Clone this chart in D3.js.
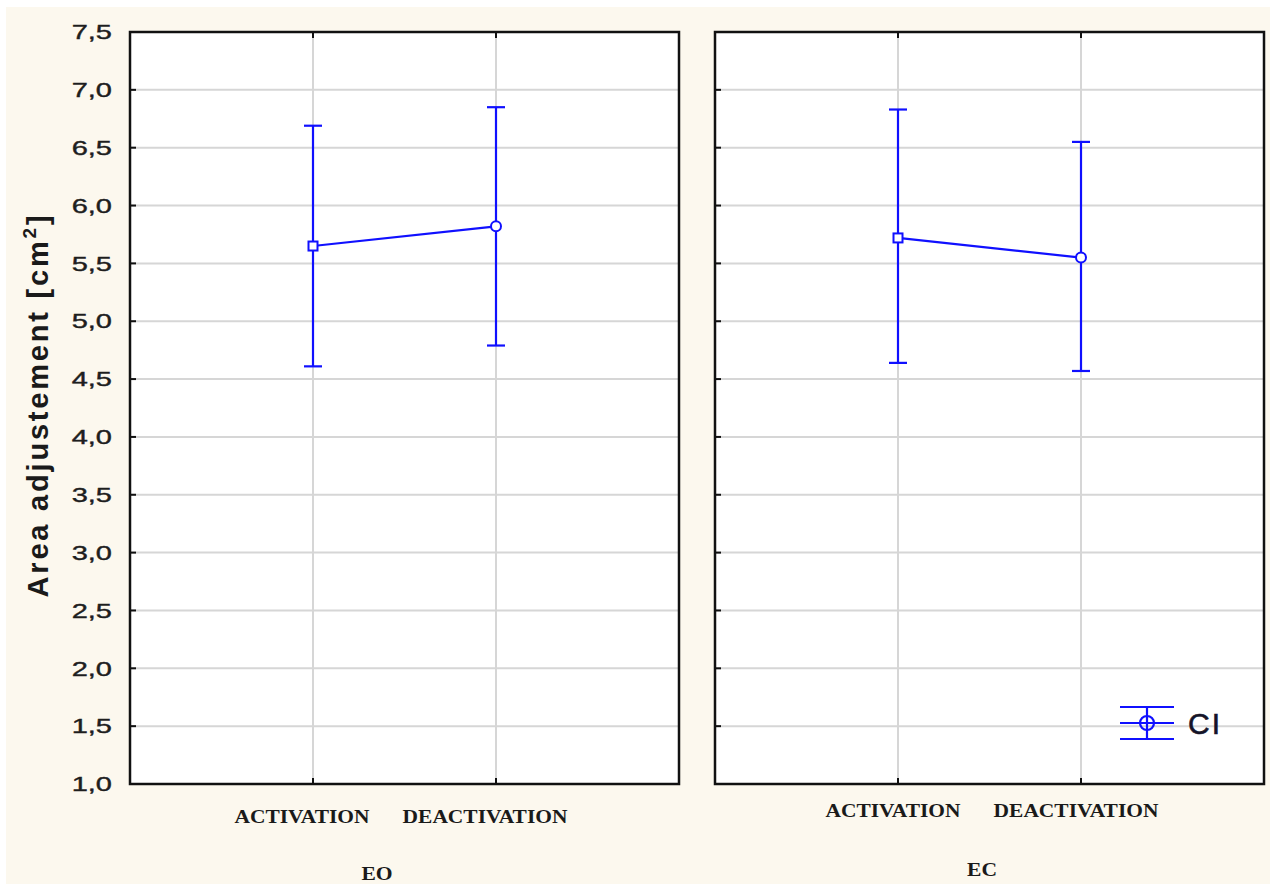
<!DOCTYPE html>
<html>
<head>
<meta charset="utf-8">
<script src="https://cdn.jsdelivr.net/npm/d3@7"></script>
<style>
  html, body { margin: 0; padding: 0; background: #ffffff; }
  svg { display: block; }
</style>
</head>
<body>
<svg id="chart" width="1270" height="884"></svg>
<script>
// ---------- data ----------
const categories = ["ACTIVATION", "DEACTIVATION"];
const panelNames = ["EO", "EC"];
const eoMean = [5.65, 5.82];
const eoLow  = [4.61, 4.79];
const eoHigh = [6.69, 6.85];
const ecMean = [5.72, 5.55];
const ecLow  = [4.64, 4.57];
const ecHigh = [6.83, 6.55];
const yTicks = [1.0, 1.5, 2.0, 2.5, 3.0, 3.5, 4.0, 4.5, 5.0, 5.5, 6.0, 6.5, 7.0, 7.5];
const yTitle = "Area adjustement [cm";
const legendLabel = "CI";

const panels = [
  { name: panelNames[0], mean: eoMean, low: eoLow, high: eoHigh },
  { name: panelNames[1], mean: ecMean, low: ecLow, high: ecHigh }
];

// ---------- layout ----------
const svg = d3.select("#chart");
const blue = "#1010ff";
const grid = "#d6d6d6";
const panelW = 549;
const panelLeft = [130, 715];
const yTop = 32, yBottom = 784;
const labelY = [823, 817];
const labelDx = [-11, -5];
const nameY = [880, 876];
const nameX = [377, 982];

svg.append("rect").attr("x", 6).attr("y", 7).attr("width", 1264).attr("height", 877)
  .attr("fill", "#fcf8ee");

const y = d3.scaleLinear().domain([1.0, 7.5]).range([yBottom, yTop]);
const fmt = v => d3.format(".1f")(v).replace(".", ",");

// y tick labels
const yl = svg.append("g");
yl.selectAll("text").data(yTicks).join("text")
  .attr("transform", d => `translate(112,${y(d)}) scale(1.45,1)`)
  .attr("text-anchor", "end")
  .attr("dominant-baseline", "central")
  .attr("font-family", "Liberation Sans, Arial, sans-serif")
  .attr("font-size", 20)
  .attr("fill", "#1e1e1e")
  .attr("stroke", "#1e1e1e").attr("stroke-width", 0.4)
  .text(fmt);

// y title
const yt = svg.append("text")
  .attr("transform", `translate(48,${(yTop + yBottom) / 2 - 3}) rotate(-90)`)
  .attr("text-anchor", "middle")
  .attr("font-family", "Liberation Sans, Arial, sans-serif")
  .attr("font-weight", "bold")
  .attr("font-size", 29)
  .attr("letter-spacing", 2.8)
  .attr("fill", "#1a1a1a");
yt.append("tspan").text(yTitle);
yt.append("tspan").attr("font-size", 19).attr("dy", -12).text("2");
yt.append("tspan").attr("dy", 12).text("]");

panels.forEach((p, i) => {
  const x0 = panelLeft[i];
  const x = d3.scalePoint().domain(categories).range([x0, x0 + panelW]).padding(1);
  const g = svg.append("g");

  g.append("rect").attr("x", x0).attr("y", yTop).attr("width", panelW).attr("height", yBottom - yTop)
    .attr("fill", "#ffffff");

  // grid
  g.selectAll("line.hg").data(yTicks.filter(t => t > 1.0 && t < 7.5)).join("line")
    .attr("class", "hg")
    .attr("x1", x0).attr("x2", x0 + panelW)
    .attr("y1", d => y(d)).attr("y2", d => y(d))
    .attr("stroke", grid).attr("stroke-width", 2);
  g.selectAll("line.vg").data(categories).join("line")
    .attr("class", "vg")
    .attr("x1", d => x(d)).attr("x2", d => x(d))
    .attr("y1", yTop).attr("y2", yBottom)
    .attr("stroke", grid).attr("stroke-width", 2);

  // ticks inside
  g.selectAll("line.yt").data(yTicks).join("line")
    .attr("class", "yt")
    .attr("x1", x0).attr("x2", x0 + 6)
    .attr("y1", d => y(d)).attr("y2", d => y(d))
    .attr("stroke", "#111").attr("stroke-width", 2);
  g.selectAll("line.bt").data(categories).join("line")
    .attr("class", "bt")
    .attr("x1", d => x(d)).attr("x2", d => x(d))
    .attr("y1", yBottom).attr("y2", yBottom - 6)
    .attr("stroke", "#111").attr("stroke-width", 2);
  g.selectAll("line.tt").data(categories).join("line")
    .attr("class", "tt")
    .attr("x1", d => x(d)).attr("x2", d => x(d))
    .attr("y1", yTop).attr("y2", yTop + 6)
    .attr("stroke", "#111").attr("stroke-width", 2);

  // frame
  g.append("rect").attr("x", x0).attr("y", yTop).attr("width", panelW).attr("height", yBottom - yTop)
    .attr("fill", "none").attr("stroke", "#111").attr("stroke-width", 2.5);

  // data
  const idx = d3.range(categories.length);
  g.selectAll("line.err").data(idx).join("line")
    .attr("class", "err")
    .attr("x1", d => x(categories[d])).attr("x2", d => x(categories[d]))
    .attr("y1", d => y(p.low[d])).attr("y2", d => y(p.high[d]))
    .attr("stroke", blue).attr("stroke-width", 2.2);
  ["low", "high"].forEach(k => {
    g.selectAll("line.cap" + k).data(idx).join("line")
      .attr("class", "cap" + k)
      .attr("x1", d => x(categories[d]) - 9).attr("x2", d => x(categories[d]) + 9)
      .attr("y1", d => y(p[k][d])).attr("y2", d => y(p[k][d]))
      .attr("stroke", blue).attr("stroke-width", 2.2);
  });
  g.append("path")
    .attr("d", d3.line().x(d => x(categories[d])).y(d => y(p.mean[d]))(idx))
    .attr("fill", "none").attr("stroke", blue).attr("stroke-width", 2.2);
  // markers: square for first, circle for second
  g.append("rect")
    .attr("x", x(categories[0]) - 4.5).attr("y", y(p.mean[0]) - 4.5)
    .attr("width", 9).attr("height", 9)
    .attr("fill", "#fff").attr("stroke", blue).attr("stroke-width", 2);
  g.append("circle")
    .attr("cx", x(categories[1])).attr("cy", y(p.mean[1])).attr("r", 5)
    .attr("fill", "#fff").attr("stroke", blue).attr("stroke-width", 2);

  // x labels
  g.selectAll("text.xl").data(categories).join("text")
    .attr("class", "xl")
    .attr("transform", d => `translate(${x(d) + labelDx[i]},${labelY[i]}) scale(1.1,1)`)
    .attr("text-anchor", "middle")
    .attr("font-family", "Liberation Serif, Times New Roman, serif")
    .attr("font-weight", "bold")
    .attr("font-size", 19.5)
    .attr("fill", "#1a1a1a")
    .text(d => d);

  g.append("text")
    .attr("transform", `translate(${nameX[i]},${nameY[i]}) scale(1.2,1)`)
    .attr("text-anchor", "middle")
    .attr("font-family", "Liberation Serif, Times New Roman, serif")
    .attr("font-weight", "bold")
    .attr("font-size", 18)
    .attr("fill", "#1a1a1a")
    .text(p.name);
});

// legend
const lg = svg.append("g").attr("transform", "translate(1147,723)");
[-16, 0, 16].forEach(dy => {
  lg.append("line").attr("x1", -27).attr("x2", 27).attr("y1", dy).attr("y2", dy)
    .attr("stroke", blue).attr("stroke-width", 2.2);
});
lg.append("line").attr("x1", 0).attr("x2", 0).attr("y1", -16).attr("y2", 16)
  .attr("stroke", blue).attr("stroke-width", 2.2);
lg.append("circle").attr("r", 7).attr("fill", "none").attr("stroke", blue).attr("stroke-width", 2.2);
lg.append("text").attr("x", 41).attr("y", 11)
  .attr("font-family", "Liberation Sans, Arial, sans-serif")
  .attr("font-size", 30)
  .attr("letter-spacing", 2)
  .attr("fill", "#141428")
  .attr("stroke", "#141428").attr("stroke-width", 0.6)
  .text(legendLabel);
</script>
</body>
</html>
